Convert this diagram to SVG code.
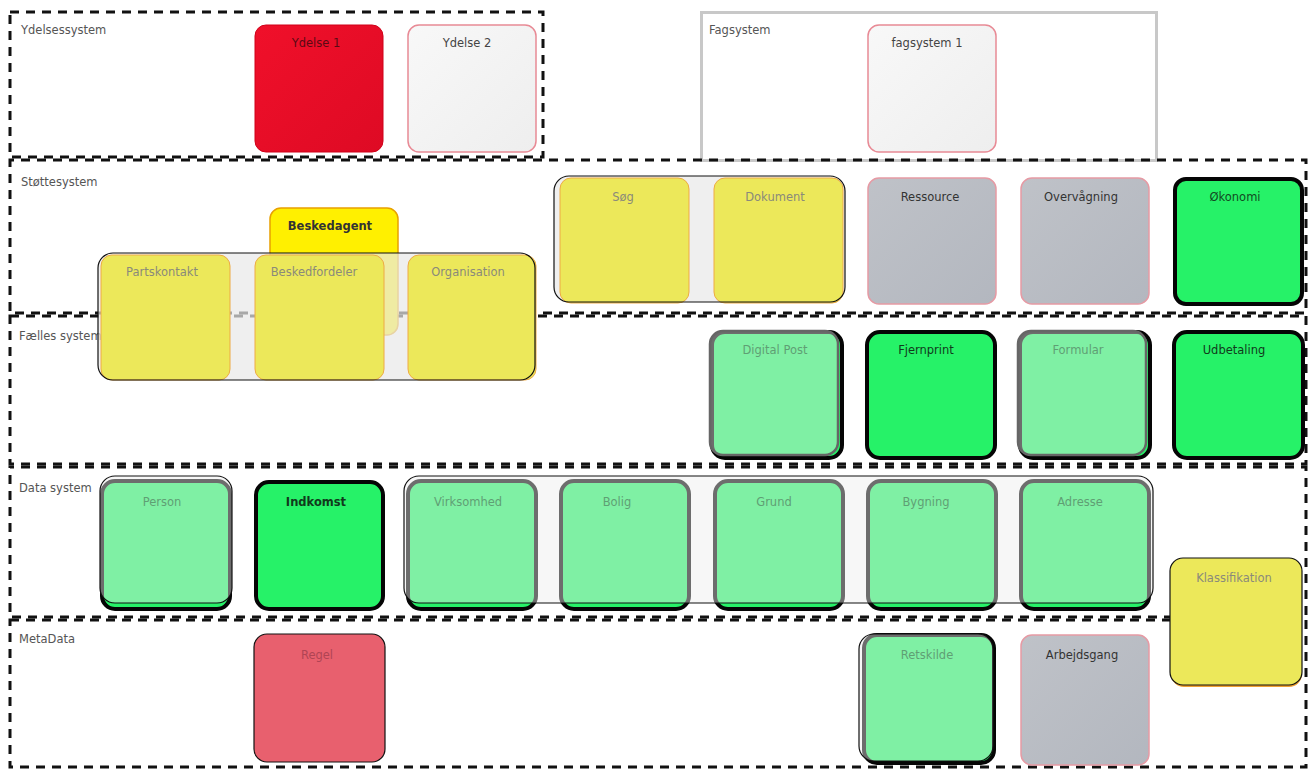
<svg xmlns="http://www.w3.org/2000/svg" width="1310" height="769" viewBox="0 0 1310 769">
<style>
.lane{fill:none;stroke:#111;stroke-width:3;stroke-dasharray:9 7}
.lane2{fill:none;stroke:#111;stroke-width:3;stroke-dasharray:9 7;stroke-dashoffset:5}
.lbl{font-family:"DejaVu Sans","Liberation Sans",Arial,sans-serif;font-size:11.5px;fill:#555}
.t{font-family:"DejaVu Sans","Liberation Sans",Arial,sans-serif;font-size:11.5px;text-anchor:middle}
.red{fill:url(#gRed);stroke:#d00018;stroke-width:1}
.white{fill:url(#gWhite);stroke:#e88a95;stroke-width:1.5}
.gray{fill:url(#gGray);stroke:#e69aa4;stroke-width:1.5}
.yel{fill:#ece85a;stroke:#eeaa44;stroke-width:1}
.yelB{fill:#fff000;stroke:#e8a000;stroke-width:1.5}
.grn{fill:#26f268;stroke:#050505;stroke-width:4}
.ov{fill:#eeeeee;fill-opacity:0.45;stroke:#111;stroke-width:1.2}
.ovg{fill:#eeeeee;fill-opacity:0.45;stroke:#666;stroke-width:2.5}
.grpBg{fill:#e8e8e8;fill-opacity:0.7;stroke:none}
.grpLn{fill:none;stroke:#111;stroke-width:1.2}
.faint{fill:#8a8a7a}
.faintG{fill:#5f9f74}
.dark{fill:#333}
.bold{font-weight:bold}
</style>
<defs>
<linearGradient id="gRed" x1="0" y1="0" x2="1" y2="1"><stop offset="0" stop-color="#f0102a"/><stop offset="1" stop-color="#de0a24"/></linearGradient>
<linearGradient id="gWhite" x1="0" y1="0" x2="1" y2="1"><stop offset="0" stop-color="#f8f8f8"/><stop offset="1" stop-color="#eeeeee"/></linearGradient>
<linearGradient id="gGray" x1="0" y1="0" x2="1" y2="1"><stop offset="0" stop-color="#bfc2c8"/><stop offset="1" stop-color="#b3b7bf"/></linearGradient>
</defs>
<rect width="1310" height="769" fill="#ffffff"/>

<g id="lanes">
  <g id="lane-ydelsessystem">
    <rect class="lane" x="10" y="12" width="533" height="145"/>
    <text class="lbl" x="21" y="34">Ydelsessystem</text>
  </g>
  <g id="lane-fagsystem">
    <rect x="701.5" y="12.5" width="455" height="148" fill="#ffffff" stroke="#c8c8c8" stroke-width="3"/>
    <text class="lbl" x="709" y="34">Fagsystem</text>
  </g>
  <g id="lane-stottesystem">
    <rect class="lane2" x="10" y="160" width="1296" height="153"/>
    <text class="lbl" x="21" y="186">Støttesystem</text>
  </g>
  <g id="lane-faelles">
    <rect class="lane" x="10" y="316" width="1296" height="148"/>
    <text class="lbl" x="19" y="340">Fælles system</text>
  </g>
  <g id="lane-data">
    <rect class="lane2" x="10" y="467" width="1296" height="150"/>
    <text class="lbl" x="19" y="492">Data system</text>
  </g>
  <g id="lane-metadata">
    <rect class="lane" x="10" y="620" width="1296" height="147"/>
    <text class="lbl" x="19" y="643">MetaData</text>
  </g>
</g>

<g id="node-ydelse1"><rect class="red" x="255" y="25" width="128" height="127" rx="11"/><text class="t" x="316" y="47" fill="#5a0a14">Ydelse 1</text></g>
<g id="node-ydelse2"><rect class="white" x="408" y="25" width="128" height="127" rx="11"/><text class="t" x="467" y="47" fill="#444">Ydelse 2</text></g>
<g id="node-fagsystem1"><rect class="white" x="868" y="25" width="128" height="127" rx="11"/><text class="t" x="927" y="47" fill="#444">fagsystem 1</text></g>

<g id="node-beskedagent"><rect class="yelB" x="270" y="208" width="128" height="127" rx="11"/><text class="t bold" x="330" y="230" fill="#333">Beskedagent</text></g>

<g id="group-partskontakt">
  <rect class="grpBg" x="98" y="253" width="437" height="127" rx="15"/>
  <g id="node-partskontakt"><rect class="yel" x="101" y="255" width="129" height="125" rx="11"/><text class="t faint" x="162" y="276">Partskontakt</text></g>
  <g id="node-beskedfordeler"><rect class="yel" x="255" y="255" width="129" height="125" rx="11"/><text class="t faint" x="314" y="276">Beskedfordeler</text></g>
  <g id="node-organisation"><rect class="yel" x="408" y="255" width="128" height="125" rx="11"/><text class="t faint" x="468" y="276">Organisation</text></g>
  <rect class="grpLn" x="98" y="253" width="437" height="127" rx="15"/>
</g>

<g id="group-sag">
  <rect class="grpBg" x="554" y="176" width="291" height="126" rx="15"/>
  <g id="node-sog"><rect class="yel" x="560" y="178" width="129" height="125" rx="11"/><text class="t faint" x="623" y="201">Søg</text></g>
  <g id="node-dokument"><rect class="yel" x="714" y="178" width="129" height="125" rx="11"/><text class="t faint" x="775" y="201">Dokument</text></g>
  <rect class="grpLn" x="554" y="176" width="291" height="126" rx="15"/>
</g>

<g id="node-ressource"><rect class="gray" x="868" y="178" width="128" height="126" rx="11"/><text class="t dark" x="930" y="201">Ressource</text></g>
<g id="node-overvagning"><rect class="gray" x="1021" y="178" width="128" height="126" rx="11"/><text class="t dark" x="1081" y="201">Overvågning</text></g>
<g id="node-okonomi"><rect class="grn" x="1175" y="179" width="127" height="125" rx="11"/><text class="t" x="1235" y="201" fill="#124a22">Økonomi</text></g>

<g id="node-digitalpost"><rect class="grn" x="712" y="332" width="130" height="126" rx="13"/><rect class="ovg" x="710" y="331" width="128" height="124" rx="13"/><text class="t faintG" x="775" y="354">Digital Post</text></g>
<g id="node-fjernprint"><rect class="grn" x="867" y="332" width="128" height="126" rx="13"/><text class="t" x="926" y="354" fill="#113a1c">Fjernprint</text></g>
<g id="node-formular"><rect class="grn" x="1020" y="332" width="130" height="126" rx="13"/><rect class="ovg" x="1018" y="331" width="128" height="124" rx="13"/><text class="t faintG" x="1078" y="354">Formular</text></g>
<g id="node-udbetaling"><rect class="grn" x="1174" y="332" width="129" height="126" rx="13"/><text class="t" x="1234" y="354" fill="#113a1c">Udbetaling</text></g>

<g id="node-person"><rect class="grn" x="102" y="481" width="128" height="128" rx="13"/><rect class="ov" x="100" y="476" width="132" height="127" rx="15"/><text class="t faintG" x="162" y="506">Person</text></g>
<g id="node-indkomst"><rect class="grn" x="256" y="482" width="127" height="127" rx="13"/><text class="t bold" x="316" y="506" fill="#113a1c">Indkomst</text></g>

<g id="group-data">
  <rect class="grn" x="408" y="481" width="128" height="128" rx="13"/>
  <rect class="grn" x="561" y="481" width="128" height="128" rx="13"/>
  <rect class="grn" x="715" y="481" width="128" height="128" rx="13"/>
  <rect class="grn" x="868" y="481" width="128" height="128" rx="13"/>
  <rect class="grn" x="1021" y="481" width="128" height="128" rx="13"/>
  <rect class="ov" x="404" y="476" width="749" height="127" rx="15"/>
  <g id="node-virksomhed"><text class="t faintG" x="468" y="506">Virksomhed</text></g>
  <g id="node-bolig"><text class="t faintG" x="617" y="506">Bolig</text></g>
  <g id="node-grund"><text class="t faintG" x="774" y="506">Grund</text></g>
  <g id="node-bygning"><text class="t faintG" x="926" y="506">Bygning</text></g>
  <g id="node-adresse"><text class="t faintG" x="1080" y="506">Adresse</text></g>
</g>

<g id="node-klassifikation"><rect x="1171" y="561" width="131" height="126" rx="13" fill="#f0a030"/><rect class="yel" x="1170" y="558" width="132" height="127" rx="13" style="stroke:#111;stroke-width:1.2"/><text class="t faint" x="1234" y="582">Klassifikation</text></g>

<g id="node-regel"><rect x="254" y="634" width="131" height="128" rx="13" fill="#e8606e" stroke="#111" stroke-width="1.2"/><text class="t" x="317" y="659" fill="#b04454">Regel</text></g>
<g id="node-retskilde"><rect class="grn" x="864" y="635" width="130" height="128" rx="13"/><rect class="ov" x="859" y="634" width="134" height="127" rx="15"/><text class="t faintG" x="927" y="659">Retskilde</text></g>
<g id="node-arbejdsgang"><rect class="gray" x="1021" y="635" width="128" height="130" rx="11"/><text class="t dark" x="1082" y="659">Arbejdsgang</text></g>

<g id="connectors"></g>
</svg>
